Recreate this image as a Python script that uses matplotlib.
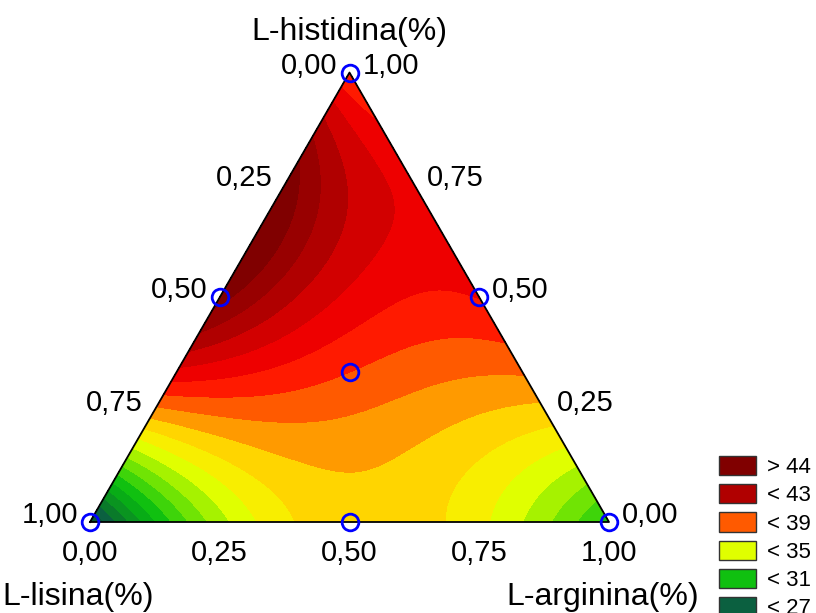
import numpy as np
import matplotlib.pyplot as plt
import matplotlib.tri as mtri
from matplotlib.patches import Patch

plt.rcParams['font.family'] = ['Liberation Sans', 'DejaVu Sans']

lisina = [1.00, 0.75, 0.50, 0.25, 0.00, 0.75, 0.50, 0.25, 0.00, 0.50, 0.25, 0.00, 0.25, 0.00, 0.00, 1/3]
arginina = [0.00, 0.25, 0.50, 0.75, 1.00, 0.00, 0.25, 0.50, 0.75, 0.00, 0.25, 0.50, 0.00, 0.25, 0.00, 1/3]
histidina = [0.00, 0.00, 0.00, 0.00, 0.00, 0.25, 0.25, 0.25, 0.25, 0.50, 0.50, 0.50, 0.75, 0.75, 1.00, 1/3]
resposta = [24.5, 34.0, 36.3, 35.6, 30.5, 38.0, 37.9, 37.4, 36.8, 44.3, 41.5, 40.0, 44.6, 40.5, 39.0, 39.0]

# pontos do planejamento (simplex-centroide)
plan_lis = [1, 0, 0, 0.5, 0.5, 0, 1/3]
plan_arg = [0, 1, 0, 0.5, 0, 0.5, 1/3]
plan_his = [0, 0, 1, 0, 0.5, 0.5, 1/3]

marcas = [0, 0.25, 0.5, 0.75, 1.0]
rotulos = ['0,00', '0,25', '0,50', '0,75', '1,00']

niveis = [10] + list(range(25, 45)) + [60]
cores = ['#064a2e', '#085535', '#0b6040', '#0a7a2a', '#0a9420', '#08ac16', '#10c010',
         '#3ed40a', '#70e404', '#a6f200', '#e0ff00', '#f8ee00', '#ffd500', '#ff9a00',
         '#ff5a00', '#ff1a00', '#ee0000', '#d20000', '#b00000', '#980000', '#800000']

leg_rotulos = ['> 44', '< 43', '< 39', '< 35', '< 31', '< 27']
leg_cores = ['#800000', '#b00000', '#ff5a00', '#e0ff00', '#10c010', '#0b6040']

h = np.sqrt(3) / 2


def xy(lis, arg, his):
    arg = np.asarray(arg, float)
    his = np.asarray(his, float)
    return arg + his / 2, his * h


def termos(a, b, c):
    a, b, c = (np.asarray(v, float) for v in (a, b, c))
    return np.column_stack([a, b, c, a*b, a*c, b*c,
                            a*b*(a-b), a*c*(a-c), b*c*(b-c), a*b*c])


# modelo cubico completo (Scheffe)
coef = np.linalg.lstsq(termos(lisina, arginina, histidina), resposta, rcond=None)[0]

n = 150
gh, ga = [], []
for i in range(n + 1):
    for j in range(n + 1 - i):
        gh.append(i / n)
        ga.append(j / n)
gh = np.array(gh)
ga = np.array(ga)
gl = 1 - gh - ga
gz = termos(gl, ga, gh) @ coef
gx, gy = xy(gl, ga, gh)
tri = mtri.Triangulation(gx, gy)

fig = plt.figure(figsize=(8.16, 6.13), dpi=100)
ax = fig.add_axes([0, 0, 1, 1])
px = 1 / 519
ax.set_xlim(-90 * px, 726 * px)
ax.set_ylim(-91 * px, 522 * px)
ax.axis('off')

ax.tricontourf(tri, np.clip(gz, 11, 59), levels=niveis, colors=cores)
ax.plot([0, 1, 0.5, 0], [0, 0, h, 0], color='black', lw=1.3)

px_, py_ = xy(plan_lis, plan_arg, plan_his)
ax.plot(px_, py_, 'o', mfc='none', mec='blue', ms=12, mew=2, clip_on=False, zorder=5)

fs_tick = 21
for t, r in zip(marcas, rotulos):
    # lisina: lado esquerdo
    x, y = xy(t, 0, 1 - t)
    ax.text(x - 12 * px, y + 7 * px, r, ha='right', va='center', fontsize=fs_tick)
    # histidina: lado direito
    x, y = xy(0, 1 - t, t)
    ax.text(x + 13 * px, y + 7 * px, r, ha='left', va='center', fontsize=fs_tick)
    # arginina: base
    x, y = xy(1 - t, t, 0)
    ax.text(x, y - 31 * px, r, ha='center', va='center', fontsize=fs_tick)

W, H = 816, 613
fig.text(349 / W, 1 - 32 / H, 'L-histidina(%)', ha='center', va='center', fontsize=23)
fig.text(2 / W, 1 - 597 / H, 'L-lisina(%)', ha='left', va='center', fontsize=23)
fig.text(603 / W, 1 - 597 / H, 'L-arginina(%)', ha='center', va='center', fontsize=23)

handles = [Patch(facecolor=c, edgecolor='#333333', linewidth=1) for c in leg_cores]
ax.legend(handles, leg_rotulos, loc='upper left', bbox_to_anchor=(719 / W, 1 - 456 / H),
          bbox_transform=fig.transFigure, frameon=False, fontsize=16, borderpad=0,
          borderaxespad=0, handlelength=1.67, handleheight=0.95, handletextpad=0.5,
          labelspacing=0.27)

fig.savefig('out.png', dpi=100)
